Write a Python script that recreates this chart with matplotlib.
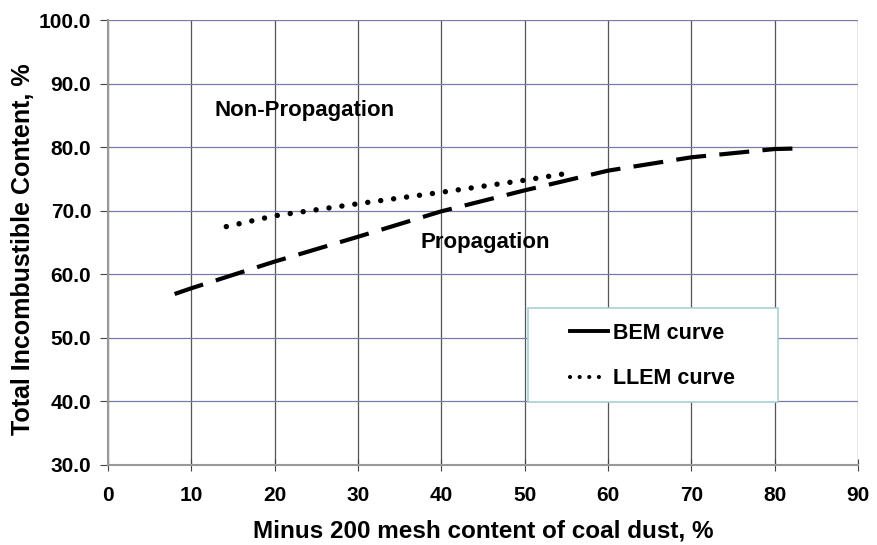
import matplotlib
matplotlib.use('Agg')
import matplotlib.pyplot as plt
from matplotlib.patches import Rectangle

# curves
bem_x = [8, 10, 20, 30, 40, 50, 60, 70, 80, 83]
bem_y = [56.9, 57.8, 62.0, 65.9, 69.9, 73.2, 76.3, 78.4, 79.7, 79.8]
llem_x = [14.2, 20, 30, 40, 50, 55.2]
llem_y = [67.5, 69.2, 71.1, 72.9, 74.8, 75.9]

x_ticks = list(range(0, 91, 10))
y_ticks = list(range(30, 101, 10))

plt.rcParams['font.family'] = ['Liberation Sans', 'DejaVu Sans']

fig = plt.figure(figsize=(8.77, 5.45), dpi=100)
ax = fig.add_axes([0.1231, 0.1468, 0.8552, 0.8165])

ax.plot(bem_x, bem_y, color='black', lw=3, dashes=(7.2, 3.2), dash_capstyle='butt')
ax.plot(llem_x, llem_y, color='black', lw=3.9, dashes=(0.01, 2.4), dash_capstyle='round')

ax.set_xlim(0, 90)
ax.set_ylim(30, 100)
ax.set_xticks(x_ticks)
ax.set_yticks(y_ticks)
ax.set_yticklabels(['%.1f' % v for v in y_ticks])

ax.grid(True, axis='x', color='#555555', lw=0.9)
ax.grid(True, axis='y', color='#7a7aa8', lw=0.9)
ax.set_axisbelow(True)
for s in ['top', 'right']:
    ax.spines[s].set_visible(False)
for s in ['left', 'bottom']:
    ax.spines[s].set_color('#999999')
    ax.spines[s].set_linewidth(1.5)
ax.tick_params(axis='x', direction='inout', length=8, color='#444444', pad=11)
ax.tick_params(axis='y', direction='out', length=6, color='#444444', pad=6)
for lab in ax.get_xticklabels() + ax.get_yticklabels():
    lab.set_fontsize(15)
    lab.set_fontweight('bold')

ax.set_xlabel('Minus 200 mesh content of coal dust, %', fontsize=17.5, fontweight='bold')
ax.set_ylabel('Total Incombustible Content, %', fontsize=18, fontweight='bold')
ax.xaxis.set_label_coords(0.5, -0.122)
ax.yaxis.set_label_coords(-0.097, 0.486)

ax.text(12.8, 85.8, 'Non-Propagation', fontsize=16, fontweight='bold', va='center')
ax.text(37.5, 65.0, 'Propagation', fontsize=16, fontweight='bold', va='center')

# legend box (drawn separately, the original box is wider than its entries)
ax.add_patch(Rectangle((0.56, 0.1416), 0.333, 0.2112, transform=ax.transAxes,
                       facecolor='white', edgecolor='#a8cfd6', lw=1.2, zorder=4))
h1, = ax.plot([], [], color='black', lw=2.8)
h2, = ax.plot([], [], color='black', lw=3, dashes=(0.01, 2.3), dash_capstyle='round')
leg = ax.legend([h1, h2], ['BEM curve', 'LLEM curve'], loc='center left',
                bbox_to_anchor=(0.616, 0.245), bbox_transform=ax.transAxes,
                frameon=False, prop={'weight': 'bold', 'size': 15.5},
                handlelength=1.75, handletextpad=0.25, borderpad=0,
                labelspacing=1.15, borderaxespad=0)
leg.set_zorder(5)

fig.savefig('out.png', dpi=100)
